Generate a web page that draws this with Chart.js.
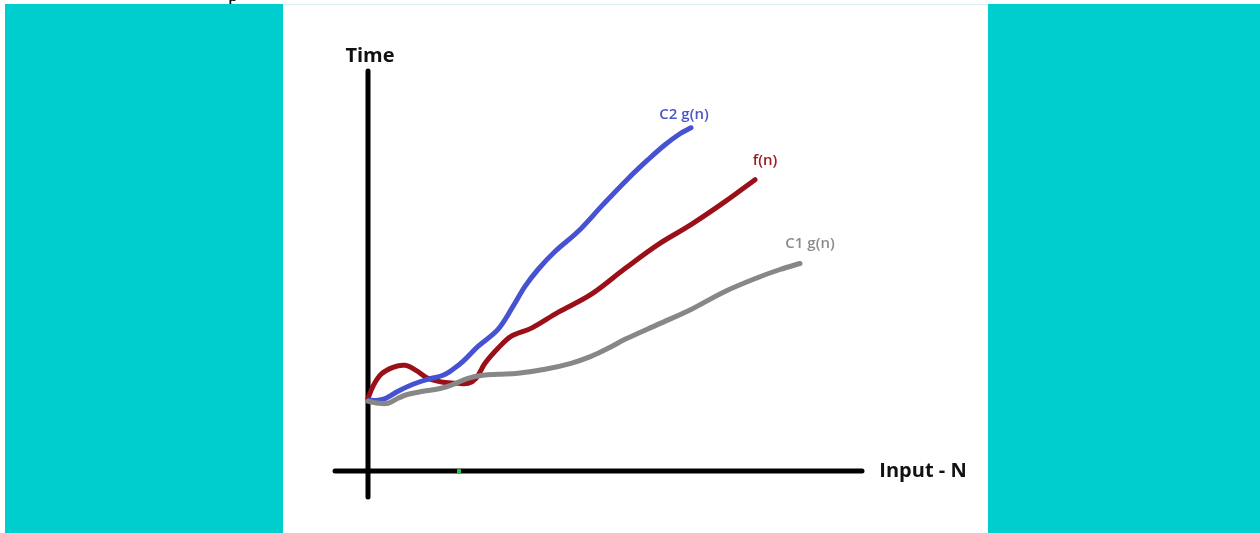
<!DOCTYPE html>
<html>
<head>
<meta charset="utf-8">
<script src="https://cdn.jsdelivr.net/npm/chart.js@4.4.1/dist/chart.umd.min.js"></script>
<style>
  html, body { margin: 0; padding: 0; background: #ffffff; }
  body { width: 1260px; height: 533px; position: relative; overflow: hidden; }
  .teal { position: absolute; top: 4px; height: 529px; background: #00cdcd; }
  #panel { position: absolute; left: 283px; top: 4px; width: 705px; height: 529px;
           background: #ffffff; border-top: 1px solid #dcedf3; box-sizing: border-box; }
  .cut { position: absolute; left: 228px; top: -17px; font: 20px "Liberation Serif", serif; color: #000; }
</style>
</head>
<body>
<div class="cut">p</div>
<div class="teal" style="left:5px;width:278px;"></div>
<div class="teal" style="left:988px;width:272px;"></div>
<div id="panel"><canvas id="sketchChart"></canvas></div>

<script>
// series names and axis titles
const seriesNames = ["C2 g(n)", "f(n)", "C1 g(n)"];
const axisTitles = ["Time", "Input - N"];

// C2 g(n) - blue
const c2X = [0.1, 1.0, 1.8, 3.0, 4.5, 6.0, 7.5, 8.5, 9.5, 11.0, 13.0, 14.5, 15.7, 17.0, 18.7, 21.0, 23.5, 26.0, 28.0, 29.7, 31.2, 32.3];
const c2Y = [7.1, 7.1, 7.3, 8.0, 8.7, 9.2, 9.6, 10.2, 11.0, 12.5, 14.2, 16.5, 18.5, 20.2, 22.0, 24.0, 26.7, 29.3, 31.2, 32.7, 33.8, 34.4];

// f(n) - dark red
const fX = [0.0, 0.5, 1.3, 2.5, 3.7, 4.8, 6.0, 7.5, 9.0, 10.0, 10.8, 11.7, 13.0, 14.3, 16.3, 19.0, 22.3, 25.7, 29.0, 32.3, 35.7, 38.7];
const fY = [7.3, 8.5, 9.7, 10.4, 10.6, 10.1, 9.3, 8.9, 8.8, 8.8, 9.3, 10.8, 12.3, 13.5, 14.3, 15.9, 17.7, 20.3, 22.7, 24.7, 27.0, 29.2];

// C1 g(n) - grey
const c1X = [0.0, 1.0, 2.0, 3.0, 4.0, 5.5, 7.3, 8.8, 10.0, 11.5, 13.0, 15.0, 17.7, 20.3, 22.3, 24.0, 25.7, 29.0, 32.3, 35.7, 39.0, 41.2, 43.2];
const c1Y = [7.0, 6.8, 6.8, 7.3, 7.7, 8.0, 8.3, 8.8, 9.3, 9.6, 9.7, 9.8, 10.2, 10.8, 11.5, 12.3, 13.2, 14.7, 16.2, 18.0, 19.4, 20.2, 20.8];

// hand-drawn axis extents
const yAxisRange = [-2.6, 40.1];
const xAxisRange = [-3.3, 49.4];
const xMark = [8.9, 9.3];

const toPoints = (xs, ys) => xs.map((x, i) => ({ x: x, y: ys[i] }));

const lineStyle = {
  borderWidth: 5,
  pointRadius: 0,
  tension: 0.35,
  borderCapStyle: "round",
  borderJoinStyle: "round",
  fill: false,
};

// text drawn at the ends of the sketch
const sketchLabels = {
  id: "sketchLabels",
  afterDatasetsDraw(chart) {
    const { ctx, scales } = chart;
    const px = (x) => scales.x.getPixelForValue(x);
    const py = (y) => scales.y.getPixelForValue(y);
    ctx.save();
    ctx.textAlign = "center";
    ctx.textBaseline = "middle";

    ctx.fillStyle = "#111111";
    ctx.font = "bold 20px 'Open Sans', sans-serif";
    ctx.fillText(axisTitles[0], px(0.2), py(41.6));
    ctx.fillText(axisTitles[1], px(55.5), py(0));

    ctx.font = "600 15px 'Open Sans', sans-serif";
    ctx.fillStyle = "#4b55c8";
    ctx.fillText(seriesNames[0], px(31.6), py(35.7));
    ctx.fillStyle = "#9b1c22";
    ctx.fillText(seriesNames[1], px(39.7), py(31.1));
    ctx.fillStyle = "#8c8c8c";
    ctx.fillText(seriesNames[2], px(44.2), py(22.8));
    ctx.restore();
  },
};

const ctx = document.getElementById("sketchChart").getContext("2d");
const sketchChart = new Chart(ctx, {
  type: "line",
  data: {
    datasets: [
      {
        label: "x axis mark",
        data: toPoints(xMark, [0, 0]),
        borderColor: "#2fbf4f",
        borderWidth: 4,
        pointRadius: 0,
        order: 0,
      },
      {
        label: seriesNames[1],
        data: toPoints(fX, fY),
        borderColor: "#9b1018",
        ...lineStyle,
        order: 3,
      },
      {
        label: seriesNames[0],
        data: toPoints(c2X, c2Y),
        borderColor: "#4652d2",
        ...lineStyle,
        order: 2,
      },
      {
        label: seriesNames[2],
        data: toPoints(c1X, c1Y),
        borderColor: "#878787",
        ...lineStyle,
        order: 1,
      },
      {
        label: "y axis",
        data: toPoints([0, 0], yAxisRange),
        borderColor: "#000000",
        borderWidth: 5,
        borderCapStyle: "round",
        pointRadius: 0,
        order: 5,
      },
      {
        label: "x axis",
        data: toPoints(xAxisRange, [0, 0]),
        borderColor: "#000000",
        borderWidth: 5,
        borderCapStyle: "round",
        pointRadius: 0,
        order: 4,
      },
    ],
  },
  options: {
    responsive: true,
    maintainAspectRatio: false,
    animation: false,
    layout: { padding: 0 },
    plugins: {
      legend: { display: false },
      tooltip: { enabled: false },
    },
    scales: {
      x: { type: "linear", min: -8.5, max: 62.0, display: false },
      y: { type: "linear", min: -6.2, max: 46.7, display: false },
    },
  },
  plugins: [sketchLabels],
});
</script>
</body>
</html>
